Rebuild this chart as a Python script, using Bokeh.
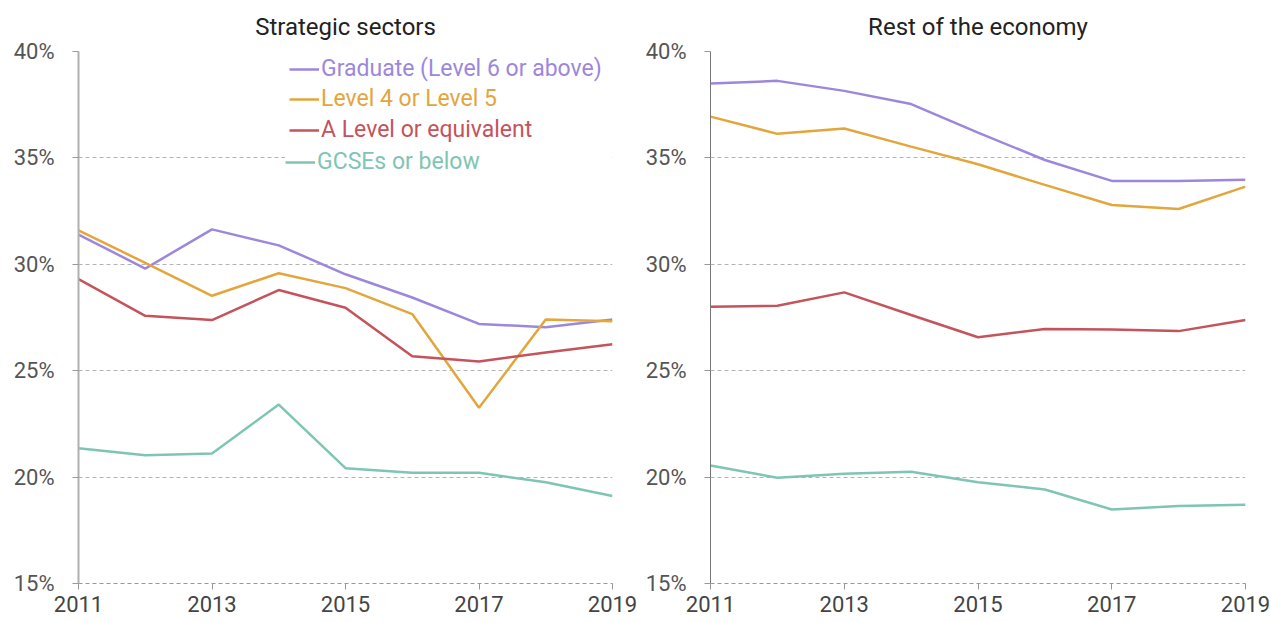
from bokeh.plotting import figure
from bokeh.models import Range1d, FixedTicker, PrintfTickFormatter, Legend, LegendItem
from bokeh.layouts import row
from bokeh.embed import file_html
from bokeh.resources import INLINE

years = [2011, 2012, 2013, 2014, 2015, 2016, 2017, 2018, 2019]
x_ticks = [2011, 2013, 2015, 2017, 2019]
y_ticks = [15, 20, 25, 30, 35, 40]

series_names = ["Graduate (Level 6 or above)", "Level 4 or Level 5",
                "A Level or equivalent", "GCSEs or below"]
series_colors = ["#9d87dc", "#e3a63c", "#c4535b", "#7fc5b4"]

# Strategic sectors (%)
strat_graduate = [31.4, 29.8, 31.64, 30.89, 29.53, 28.44, 27.2, 27.04, 27.41]
strat_level45 = [31.59, 30.07, 28.52, 29.58, 28.88, 27.66, 23.26, 27.41, 27.32]
strat_alevel = [29.3, 27.58, 27.38, 28.79, 27.96, 25.68, 25.43, 25.86, 26.24]
strat_gcse = [21.36, 21.03, 21.11, 23.41, 20.42, 20.2, 20.2, 19.76, 19.11]

# Rest of the economy (%)
rest_graduate = [38.5, 38.62, 38.15, 37.53, 36.19, 34.9, 33.92, 33.92, 33.97]
rest_level45 = [36.94, 36.13, 36.38, 35.53, 34.7, 33.73, 32.79, 32.6, 33.65]
rest_alevel = [28.0, 28.05, 28.68, 27.62, 26.57, 26.96, 26.94, 26.86, 27.38]
rest_gcse = [20.55, 19.97, 20.16, 20.25, 19.76, 19.42, 18.48, 18.64, 18.7]

FONT = "Roboto"


def make_panel(title, data, width, border_left, border_right, axis_color, axis_width, legend=False):
    p = figure(width=width, height=622, output_backend="svg", toolbar_location=None,
               x_range=Range1d(2011, 2019), y_range=Range1d(15, 40),
               min_border_left=border_left, min_border_right=border_right,
               min_border_top=50, min_border_bottom=39)
    p.title.text = title
    p.title.align = "center"
    p.title.text_font = FONT
    p.title.text_font_size = "24px"
    p.title.text_font_style = "normal"
    p.title.text_color = "#222222"
    p.title.standoff = 21
    p.outline_line_color = None
    p.background_fill_color = "white"
    p.border_fill_color = "white"

    p.xgrid.grid_line_color = None
    p.ygrid.ticker = FixedTicker(ticks=y_ticks)
    p.ygrid.grid_line_color = "#b3b3b3"
    p.ygrid.grid_line_dash = "4 3"
    p.ygrid.grid_line_width = 1

    p.yaxis.ticker = FixedTicker(ticks=y_ticks)
    p.yaxis.formatter = PrintfTickFormatter(format="%d%%")
    p.yaxis.axis_line_color = axis_color
    p.yaxis.axis_line_width = axis_width
    p.yaxis.major_tick_line_color = "#999999"
    p.yaxis.major_tick_out = 6
    p.yaxis.major_tick_in = 0
    p.yaxis.minor_tick_line_color = None
    p.yaxis.major_label_text_font = FONT
    p.yaxis.major_label_text_font_size = "22px"
    p.yaxis.major_label_text_color = "#555555"
    p.yaxis.major_label_standoff = 18

    p.xaxis.ticker = FixedTicker(ticks=x_ticks)
    p.xaxis.formatter = PrintfTickFormatter(format="%d")
    p.xaxis.axis_line_color = "#999999"
    p.xaxis.axis_line_dash = "4 3"
    p.xaxis.major_tick_line_color = "#999999"
    p.xaxis.major_tick_out = 6
    p.xaxis.major_tick_in = 0
    p.xaxis.minor_tick_line_color = None
    p.xaxis.major_label_text_font = FONT
    p.xaxis.major_label_text_font_size = "22px"
    p.xaxis.major_label_text_color = "#444444"
    p.xaxis.major_label_standoff = 6

    renderers = []
    for vals, col in zip(data, series_colors):
        r = p.line(years, vals, line_color=col, line_width=2.5)
        renderers.append(r)

    if legend:
        offsets = [501, 471, 440, 412]
        for i, (name, col, r) in enumerate(zip(series_names, series_colors, renderers)):
            last = i == len(series_names) - 1
            pad = 4 if last else 0
            leg = Legend(items=[LegendItem(label=name, renderers=[r])],
                         location=(211 - pad, offsets[i] - pad),
                         orientation="vertical",
                         glyph_width=30, glyph_height=26, label_height=26,
                         label_width=300 if last else 120,
                         label_standoff=2, padding=pad, margin=0, spacing=0,
                         label_text_color=col, label_text_font=FONT,
                         label_text_font_size="23px",
                         border_line_color=None,
                         background_fill_color="white",
                         background_fill_alpha=1.0 if last else 0.0)
            p.add_layout(leg)
    return p


p1 = make_panel("Strategic sectors",
                [strat_graduate, strat_level45, strat_alevel, strat_gcse],
                640, 78, 28, "#b0b0b0", 2, legend=True)
p2 = make_panel("Rest of the economy",
                [rest_graduate, rest_level45, rest_alevel, rest_gcse],
                630, 70, 25, "#777777", 1)

layout = row(p1, p2)
open("out.html", "w").write(file_html(layout, INLINE))
